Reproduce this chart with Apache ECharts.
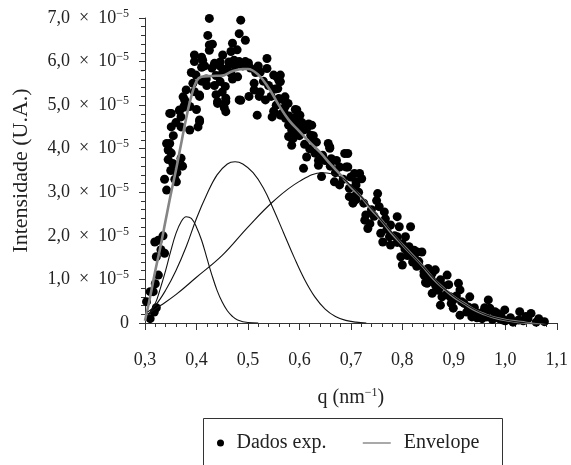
<!DOCTYPE html>
<html>
<head>
<meta charset="utf-8">
<script src="https://cdn.jsdelivr.net/npm/echarts@6/dist/echarts.min.js"></script>
<style>
html,body{margin:0;padding:0;background:#fff;}
#chart{width:571px;height:465px;}
</style>
</head>
<body>
<div id="chart"></div>
<script>
// Intensities are in units of 1e-5 (U.A.)
const xTicks = [0.3,0.4,0.5,0.6,0.7,0.8,0.9,1.0,1.1];
const yTicks = [0,1,2,3,4,5,6,7];

// experimental data [q, intensity (×1e-5)]
const dadosExp = [
[0.31,0.1],[0.303,0.49],[0.31,0.72],[0.316,0.72],[0.326,1.1],[0.32,0.9],[0.319,1.86],[0.335,2.0],
[0.331,1.68],[0.338,1.6],[0.322,1.52],[0.326,1.9],[0.342,3.05],[0.361,3.24],[0.358,3.3],[0.354,3.66],
[0.345,3.97],[0.351,3.9],[0.348,4.12],[0.37,3.78],[0.373,3.6],[0.364,3.6],[0.351,4.5],[0.37,4.5],
[0.406,4.62],[0.403,4.5],[0.387,4.43],[0.351,4.81],[0.367,4.89],[0.37,4.73],[0.377,5.0],[0.387,4.97],
[0.4,4.9],[0.441,5.04],[0.322,0.35],[0.318,0.25],
[0.425,6.99],[0.486,6.95],[0.483,6.64],[0.495,6.49],[0.422,6.6],[0.425,6.38],[0.431,6.4],[0.425,6.26],
[0.47,6.42],[0.467,6.23],[0.479,6.27],[0.396,6.15],[0.41,6.1],[0.396,6.0],[0.451,6.15],[0.446,5.99],
[0.435,5.96],[0.416,5.9],[0.41,5.87],[0.463,5.99],[0.473,6.03],[0.483,6.0],[0.495,6.0],[0.501,5.97],
[0.537,6.07],[0.537,5.84],[0.524,5.76],[0.467,5.73],[0.451,5.76],[0.438,5.68],[0.419,5.6],[0.393,5.5],
[0.374,5.19],[0.367,4.87],[0.396,5.31],[0.406,5.2],[0.446,5.54],[0.456,5.43],[0.438,5.24],[0.457,5.16],
[0.441,5.08],[0.454,4.94],[0.483,5.12],[0.502,5.2],[0.512,5.35],[0.512,5.5],[0.524,5.3],[0.534,5.12],
[0.522,5.2],[0.518,4.77],[0.54,5.45],[0.556,5.65],[0.562,5.54],[0.553,5.37],[0.55,4.86],[0.569,5.12],
[0.572,4.96],[0.563,4.77],[0.592,4.9],[0.595,4.74],[0.588,4.64],[0.605,4.6],[0.618,4.57],[0.585,4.43],
[0.601,4.43],[0.588,4.24],[0.614,4.46],[0.627,4.3],[0.633,4.15],[0.656,4.12],[0.659,4.04],[0.342,4.12],
[0.348,4.81],[0.399,5.69],[0.377,5.12],
[0.55,5.69],[0.56,5.57],[0.558,5.38],[0.56,5.15],[0.547,4.73],[0.486,5.11],[0.457,4.85],[0.457,5.08],
[0.406,4.66],[0.406,5.23],[0.412,6.03],[0.579,4.28],[0.573,4.7],
[0.563,5.69],[0.563,5.54],[0.572,5.19],[0.578,5.04],[0.566,4.81],[0.595,4.89],[0.601,4.77],[0.599,4.62],
[0.579,4.54],[0.587,4.39],[0.608,4.43],[0.624,4.54],[0.622,4.31],[0.585,4.24],[0.585,4.08],[0.627,4.2],
[0.614,3.81],[0.608,3.55],[0.637,3.73],[0.659,4.01],[0.637,3.62],[0.65,3.73],[0.662,3.77],[0.672,3.73],
[0.688,3.89],[0.691,3.58],[0.678,3.58],[0.643,3.36],[0.668,3.24],[0.678,3.17],[0.697,3.09],[0.697,2.9],
[0.707,3.43],[0.71,3.24],[0.704,2.75],
[0.694,3.89],[0.694,3.58],[0.717,3.43],[0.721,3.31],[0.71,3.17],[0.71,2.94],[0.71,2.83],[0.752,2.97],
[0.75,2.81],[0.755,2.67],[0.729,2.48],[0.727,2.36],[0.737,2.28],[0.733,2.17],[0.765,2.55],[0.767,2.39],
[0.79,2.44],[0.777,2.25],[0.794,2.21],[0.816,2.21],[0.758,2.06],[0.775,1.98],[0.762,1.86],[0.777,1.79],
[0.79,1.98],[0.806,1.98],[0.8,1.82],[0.813,1.75],[0.823,1.67],[0.797,1.52],[0.8,1.33],[0.823,1.52],
[0.838,1.63],[0.832,1.41],[0.842,1.1],[0.845,0.93],
[0.829,1.63],[0.832,1.33],[0.842,1.18],[0.848,0.91],[0.858,1.14],[0.864,1.22],[0.861,0.93],[0.858,0.68],
[0.874,0.99],[0.887,1.1],[0.89,0.88],[0.877,0.6],[0.874,0.41],[0.893,0.6],[0.899,0.53],[0.909,0.91],
[0.912,0.76],[0.915,0.49],[0.899,0.34],[0.912,0.18],[0.928,0.37],[0.931,0.6],[0.938,0.26],[0.948,0.22],
[0.935,0.14],[0.957,0.26],[0.967,0.53],[0.97,0.3],[0.964,0.14],[0.98,0.26],
[0.97,0.34],[0.98,0.18],[0.992,0.15],[0.999,0.3],[0.996,0.07],[1.028,0.26],[1.026,0.07],[1.044,0.1],
[1.05,0.22],[1.076,0.03],[0.988,0.1],
[0.43,5.85],[0.445,5.9],[0.46,5.85],[0.475,5.9],[0.49,5.9],[0.505,5.85],[0.515,5.75],[0.52,5.9],
[0.47,5.6],[0.48,5.65],[0.435,5.45],[0.45,5.3],[0.42,5.45],[0.41,5.55],[0.39,5.75],[0.38,5.35],
[0.375,4.95],[0.36,4.6],[0.355,4.3],[0.345,3.75],[0.35,3.5],[0.338,3.3],[0.362,3.45],[0.53,5.55],
[0.545,5.2],[0.555,5.0],[0.57,4.85],[0.58,4.75],[0.59,4.5],[0.6,4.3],[0.61,4.1],[0.62,4.0],
[0.63,3.9],[0.645,3.85],[0.66,3.6],[0.67,3.45],[0.685,3.3],[0.7,3.35],[0.715,3.0],[0.725,2.75],
[0.74,2.6],[0.745,2.45],[0.76,2.3],[0.77,2.15],[0.785,2.0],[0.79,1.85],[0.805,1.7],[0.81,1.55],
[0.82,1.4],[0.828,1.3],[0.85,1.25],[0.855,1.05],[0.865,0.85],[0.87,0.75],[0.88,0.85],[0.885,0.65],
[0.895,0.45],[0.905,0.62],[0.92,0.45],[0.925,0.25],[0.94,0.35],[0.945,0.12],[0.955,0.1],[0.96,0.35],
[0.975,0.08],[0.985,0.22],[1.0,0.05],[1.01,0.12],[1.015,0.02],[1.035,0.05],[1.04,0.15],[1.06,0.02],
[1.065,0.1]
];

// fitted envelope
const envQ = [0.300,0.31,0.32,0.33,0.34,0.35,0.36,0.37,0.38,0.39,0.40,0.41,0.43,0.45,0.47,0.49,0.50,0.52,0.54,0.56,0.58,0.60,0.62,0.64,0.66,0.68,0.70,0.72,0.74,0.76,0.78,0.80,0.82,0.84,0.86,0.88,0.90,0.92,0.94,0.96,0.98,1.00,1.03,1.06,1.08];
const envI = [0.05,0.6,1.2,1.75,2.35,2.95,3.5,4.1,4.7,5.2,5.55,5.65,5.67,5.68,5.78,5.83,5.83,5.7,5.4,5.0,4.65,4.4,4.15,3.92,3.65,3.4,3.12,2.9,2.6,2.35,2.05,1.8,1.55,1.3,1.02,0.8,0.6,0.45,0.3,0.2,0.12,0.07,0.02,-0.03,-0.05];

// component 1
const c1Q = [0.305,0.32,0.33,0.34,0.35,0.36,0.37,0.38,0.39,0.40,0.41,0.42,0.43,0.44,0.45,0.46,0.47,0.48,0.50,0.52];
const c1I = [0.15,0.45,0.8,1.2,1.65,2.05,2.32,2.44,2.4,2.2,1.9,1.5,1.1,0.75,0.48,0.28,0.15,0.07,0.01,0];
// component 2
const c2Q = [0.305,0.32,0.34,0.36,0.38,0.40,0.42,0.44,0.46,0.475,0.49,0.51,0.53,0.55,0.57,0.59,0.61,0.63,0.65,0.67,0.69,0.71,0.73];
const c2I = [0.25,0.4,0.75,1.2,1.75,2.4,2.95,3.4,3.65,3.7,3.65,3.45,3.1,2.6,2.05,1.5,1.0,0.6,0.32,0.15,0.06,0.02,0];
// component 3
const c3Q = [0.305,0.33,0.36,0.40,0.45,0.50,0.55,0.60,0.645,0.68,0.70,0.72,0.76,0.80,0.84,0.88,0.92,0.96,1.00,1.04,1.08];
const c3I = [0.2,0.4,0.65,1.05,1.55,2.2,2.8,3.25,3.45,3.35,3.15,2.9,2.35,1.8,1.3,0.8,0.45,0.2,0.07,0.0,-0.05];

const zip = (a,b) => a.map((v,i) => [v,b[i]]);
const FONT = "'Liberation Serif','Times New Roman',serif";
const TXT = '#222';

const chart = echarts.init(document.getElementById('chart'), null, {renderer:'canvas'});
const compStyle = {color:'#111', width:1.1};
const legendText = {fontFamily:FONT, fontSize:20, color:TXT};
chart.setOption({
  animation:false,
  backgroundColor:'#fff',
  grid:{left:145, right:10, top:18, bottom:142},
  legend:[{
    left:217, top:433, padding:0, itemWidth:10, itemHeight:7,
    textStyle:Object.assign({padding:[0,0,0,6]}, legendText),
    data:[{name:'Dados exp.', icon:'circle'}]
  },{
    left:362, top:433, padding:0, itemWidth:28, itemHeight:7,
    textStyle:Object.assign({padding:[0,0,0,8]}, legendText),
    data:[{name:'Envelope', itemStyle:{opacity:0}, lineStyle:{width:1.5, color:'#8c8c8c'}}]
  }],
  graphic:[{
    type:'rect', shape:{x:203.5, y:418.5, width:299, height:80},
    style:{fill:'none', stroke:'#333', lineWidth:1}, silent:true
  },{
    type:'line', shape:{x1:145.5, y1:322, x2:145.5, y2:328},
    style:{stroke:'#333', lineWidth:1}, silent:true
  }],
  xAxis:{
    type:'value', min:0.3, max:1.1, interval:0.1, offset:5,
    name:'q (nm{sup|−1})', nameLocation:'middle', nameGap:59,
    nameTextStyle:{fontFamily:FONT, fontSize:20, color:TXT,
      rich:{sup:{fontSize:12, fontFamily:FONT, color:TXT, padding:[0,0,10,0]}}},
    axisLine:{lineStyle:{color:'#333', width:1}},
    axisTick:{show:true, inside:false, length:7, lineStyle:{color:'#333'}},
    minorTick:{show:true, splitNumber:5, length:4, lineStyle:{color:'#333'}},
    splitLine:{show:false},
    axisLabel:{fontFamily:FONT, fontSize:18, color:TXT, margin:23,
      formatter:v => v.toFixed(1).replace('.',',')}
  },
  yAxis:{
    type:'value', min:0, max:7, interval:1,
    name:'Intensidade (U.A.)', nameLocation:'middle', nameGap:113, nameRotate:90,
    nameTextStyle:{fontFamily:FONT, fontSize:22, color:TXT},
    axisLine:{show:true, lineStyle:{color:'#333', width:1}},
    axisTick:{show:true, inside:false, length:6, lineStyle:{color:'#333'}},
    minorTick:{show:true, splitNumber:5, length:4, lineStyle:{color:'#333'}},
    splitLine:{show:false},
    axisLabel:{fontFamily:FONT, fontSize:18, color:TXT, margin:16, align:'right',
      formatter:v => v === 0 ? '0' : v.toFixed(1).replace('.',',') + '\u2002×\u200210{sup|−5}',
      rich:{sup:{fontSize:12, fontFamily:FONT, color:TXT, padding:[0,0,9,0]}}}
  },
  series:[
    {name:'Dados exp.', type:'scatter', data:dadosExp, symbol:'circle', symbolSize:9,
     itemStyle:{color:'#000', opacity:1}, z:1},
    {name:'Envelope', type:'line', data:zip(envQ,envI), smooth:0.4, symbol:'none',
     lineStyle:{color:'#858585', width:2.6}, itemStyle:{color:'#858585'}, z:3},
    {name:'c1', type:'line', data:zip(c1Q,c1I), smooth:0.4, symbol:'none', lineStyle:compStyle, z:4},
    {name:'c2', type:'line', data:zip(c2Q,c2I), smooth:0.4, symbol:'none', lineStyle:compStyle, z:4},
    {name:'c3', type:'line', data:zip(c3Q,c3I), smooth:0.4, symbol:'none', lineStyle:compStyle, z:4}
  ]
});
</script>
</body>
</html>
